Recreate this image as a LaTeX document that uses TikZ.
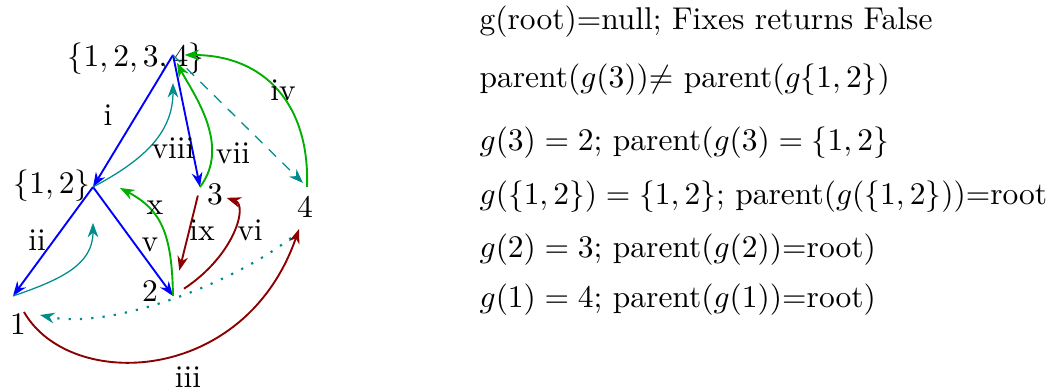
\documentclass[tikz,border=0pt]{standalone}
\usetikzlibrary{arrows.meta}
\definecolor{cgreen}{RGB}{0,175,0}
\definecolor{cteal}{RGB}{0,140,140}
\definecolor{cred}{RGB}{140,0,0}
\begin{document}
\begin{tikzpicture}[x=0.3177pt,y=-0.3177pt,
  tip/.style={-{Stealth[length=4.6pt,width=3.4pt]}},
  blueedge/.style={tip,draw=blue,line width=0.6pt},
  greenedge/.style={tip,draw=cgreen,line width=0.6pt},
  rededge/.style={tip,draw=cred,line width=0.6pt},
  tealedge/.style={tip,draw=cteal,line width=0.4pt},
  vlabel/.style={inner sep=1pt},
  elabel/.style={inner sep=0pt},
  txt/.style={anchor=west,inner sep=0pt}]
\useasboundingbox (0,0) rectangle (1062,389);
% vertices
\coordinate (A) at (173,55);
\coordinate (B) at (93,187);
\coordinate (C) at (200,187);
\coordinate (D) at (307,187);
\coordinate (E) at (13,296);
\coordinate (F) at (173,296);
% vertex labels
\node[vlabel] (lA) at (136,59) {$\{1,2,3,4\}$};
\node[vlabel] (lB) at (52,186) {$\{1,2\}$};
\node[vlabel] (lC) at (215,194) {$3$};
\node[vlabel] (lD) at (305,207) {$4$};
\node[vlabel] (lE) at (18,324) {$1$};
\node[vlabel] (lF) at (150,291) {$2$};
% free ends
\coordinate (xend) at (120,188);
\coordinate (iiiS) at (24,312);
\coordinate (iiiE) at (299,229);
\coordinate (dS) at (291,238);
\coordinate (dE) at (40,315);
% blue edges
\draw[blueedge] (A) -- (B);
\draw[blueedge] (B) -- (E);
\draw[blueedge] (B) -- (F);
\draw[blueedge] (A) -- (C);
% teal
\draw[tealedge, shorten >=8.9pt] (B) .. controls (140,162) and (173,135) .. (A);
\draw[tealedge, shorten >=11.4pt] (E) .. controls (60,280) and (93,265) .. (B);
\draw[tealedge, dash pattern=on 3.3pt off 2.8pt, shorten >=1.8pt] (A) -- (D);
\draw[tip, draw=cteal, line width=0.7pt, dash pattern=on 0.7pt off 2.9pt] (dS) .. controls (230,285) and (110,330) .. (dE);
% green
\draw[greenedge, shorten >=2.8pt] (C) .. controls (232,145) and (192,92) .. (A);
\draw[greenedge, shorten >=3.7pt] (D) .. controls (310,105) and (265,55) .. (A);
\draw[greenedge] (F) .. controls (172,235) and (162,210) .. (xend);
% dark red
\draw[rededge, shorten <=2.8pt, shorten >=8.3pt] (C) -- (F);
\draw[rededge, shorten <=4.2pt] (F) .. controls (235,255) and (248,205) .. (lC);
\draw[rededge] (iiiS) .. controls (70,392) and (245,385) .. (iiiE);
% edge labels
\node[elabel] (ti) at (108,115) {i};
\node[elabel] (tviii) at (173,148) {viii};
\node[elabel] (tvii) at (233,153) {vii};
\node[elabel] (tiv) at (283,90) {iv};
\node[elabel] (tii) at (37,240) {ii};
\node[elabel] (tx) at (155,208) {x};
\node[elabel] (tv) at (150,245) {v};
\node[elabel] (tix) at (202,230) {ix};
\node[elabel] (tvi) at (250,230) {vi};
\node[elabel] (tiii) at (188,377) {iii};
% text
\node[txt] (t1) at (479,22) {g(root)=null; Fixes returns False};
\node[txt] (t2) at (479,80) {parent($g(3)$)$\neq$ parent($g\{1,2\}$)};
\node[txt] (t3) at (479,143) {$g(3) = 2$; parent($g(3) = \{1,2\}$};
\node[txt] (t4) at (479,197) {$g(\{1,2\}) = \{1,2\}$; parent($g(\{1,2\})$)=root};
\node[txt] (t5) at (479,250) {$g(2) = 3$; parent($g(2)$)=root)};
\node[txt] (t6) at (479,300) {$g(1) = 4$; parent($g(1)$)=root)};
\end{tikzpicture}
\end{document}
